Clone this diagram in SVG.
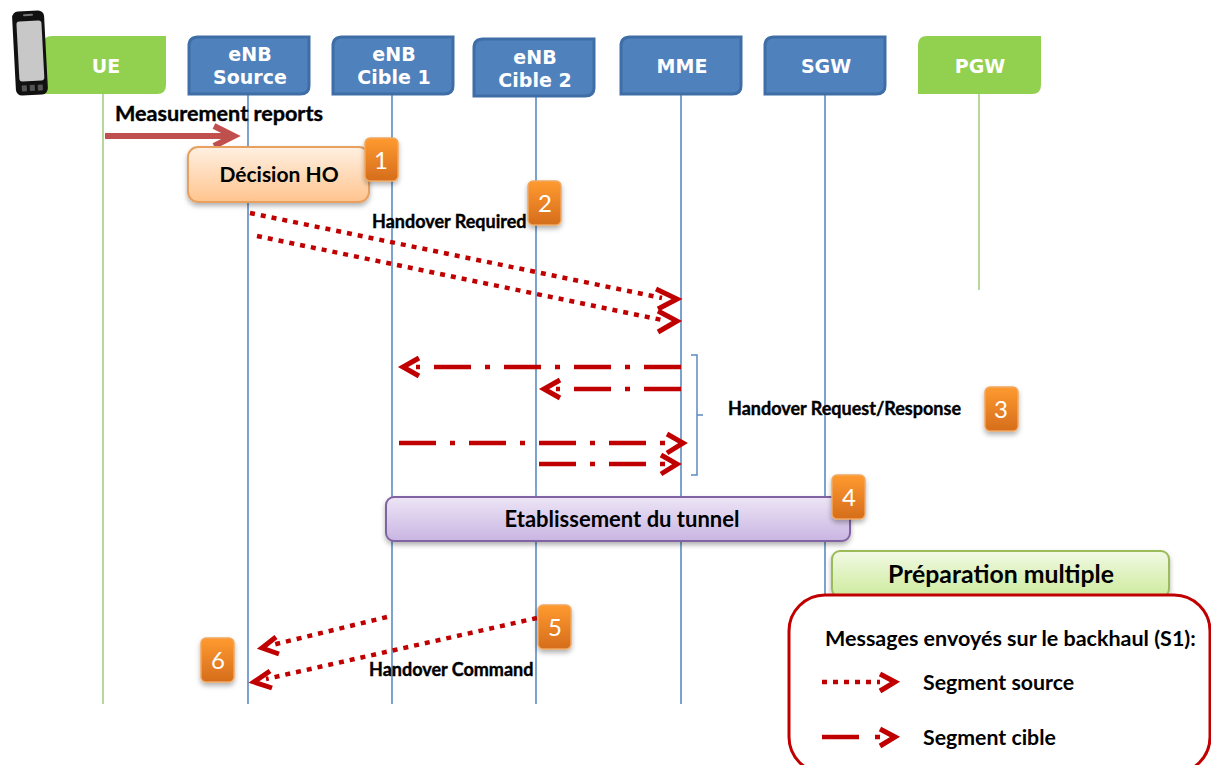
<svg xmlns="http://www.w3.org/2000/svg" width="1211" height="765" viewBox="0 0 1211 765">
<style>
.hb{fill:#4f81bd;stroke:#3f6ea6;stroke-width:3}
.hg{fill:#92d050}
.ht{font:bold 19px "DejaVu Sans",sans-serif;fill:#fff;text-anchor:middle}
.ll{fill:none;stroke-width:1.6}
.b{stroke:#5b8bc4}
.g{stroke:#a6cf7c}
.lb{font:bold 21.3px Lato,"Open Sans",sans-serif;fill:#000}
.sm{font:bold 18px Lato,"Open Sans",sans-serif;fill:#000;stroke:#000;stroke-width:.4}
.badge{fill:url(#or);stroke:#f0a860;stroke-width:1.5;filter:url(#sh)}
.num{font:24px Lato,"Open Sans",sans-serif;fill:#fff;text-anchor:middle}
.dot{fill:none;stroke:#c00000;stroke-width:4.5;stroke-dasharray:5 6}
.dd{fill:none;stroke:#c00000;stroke-width:4.5;stroke-dasharray:37 14 5 14}
.dd2{fill:none;stroke:#c00000;stroke-width:4.5}
.head{fill:none;stroke:#c00000;stroke-width:5}
</style>
<defs>
<linearGradient id="or" x1="0" y1="0" x2="0" y2="1"><stop offset="0" stop-color="#ff9a30"/><stop offset="1" stop-color="#d56d1c"/></linearGradient>
<linearGradient id="pe" x1="0" y1="0" x2="0" y2="1"><stop offset="0" stop-color="#fff0e2"/><stop offset="1" stop-color="#ffc48e"/></linearGradient>
<linearGradient id="pu" x1="0" y1="0" x2="0" y2="1"><stop offset="0" stop-color="#ede5f6"/><stop offset="1" stop-color="#c9b5e2"/></linearGradient>
<linearGradient id="gr" x1="0" y1="0" x2="0" y2="1"><stop offset="0" stop-color="#f2f9e4"/><stop offset="1" stop-color="#cdeb9d"/></linearGradient>
<filter id="sh" x="-20%" y="-20%" width="140%" height="150%"><feDropShadow dx="0" dy="3" stdDeviation="2.5" flood-color="#000" flood-opacity=".3"/></filter>
<path id="hdr" d="M9 0H120V49Q120 57 111 57H0V9Q0 0 9 0Z"/>
<path id="hdg" d="M9 0H123V49Q123 58 114 58H0V9Q0 0 9 0Z"/>
</defs>

<g id="lifelines">
<path class="ll g" d="M103 94V704"/>
<path class="ll b" d="M248 94V704"/>
<path class="ll b" d="M392 94V704"/>
<path class="ll b" d="M536 94V704"/>
<path class="ll b" d="M681 94V704"/>
<path class="ll b" d="M825 94V600"/>
<path class="ll g" d="M979 94V290"/>
</g>

<g id="node-ue">
<use href="#hdg" x="43" y="36" class="hg"/>
<text class="ht" x="106" y="73">UE</text>
<g id="phone" transform="rotate(-3 30 53)">
<rect x="14" y="11" width="32" height="84" rx="6" fill="#111"/>
<rect x="18" y="21" width="25" height="60" rx="3" fill="#c8c8c8"/>
<rect x="25" y="14" width="10" height="2" rx="1" fill="#777"/>
<rect x="20" y="85" width="5" height="6" fill="#555"/>
<rect x="28" y="85" width="5" height="6" fill="#555"/>
<rect x="36" y="85" width="5" height="6" fill="#555"/>
</g>
</g>
<g id="node-enb-source"><use href="#hdr" x="189" y="37" class="hb"/><text class="ht" x="250" y="61">eNB</text><text class="ht" x="250" y="84">Source</text></g>
<g id="node-enb-cible1"><use href="#hdr" x="333" y="37" class="hb"/><text class="ht" x="394" y="61">eNB</text><text class="ht" x="394" y="84">Cible 1</text></g>
<g id="node-enb-cible2"><use href="#hdr" x="474" y="39" class="hb"/><text class="ht" x="535" y="64">eNB</text><text class="ht" x="535" y="87">Cible 2</text></g>
<g id="node-mme"><use href="#hdr" x="621" y="37" class="hb"/><text class="ht" x="682" y="73">MME</text></g>
<g id="node-sgw"><use href="#hdr" x="765" y="37" class="hb"/><text class="ht" x="826" y="73">SGW</text></g>
<g id="node-pgw"><use href="#hdg" x="918" y="36" class="hg"/><text class="ht" x="980" y="73">PGW</text></g>

<g id="connectors">
<path d="M105 136H232" fill="none" stroke="#c0504d" stroke-width="6"/>
<path d="M214 126L234 136L214 146" fill="none" stroke="#c0504d" stroke-width="6"/>

<path class="dot" d="M250 213L662 298"/><path class="head" d="M656 289L677 299L658 309"/>
<path class="dot" d="M257 236L662 320"/><path class="head" d="M658 311L677 321L658 332"/>

<path class="dd" d="M681 367H416"/><path class="head" d="M419 358L403 367L419 376"/>
<path class="dd" d="M681 389H556"/><path class="head" d="M560 380L544 389L560 398"/>
<path class="dd" d="M399 443H665"/><path class="head" d="M667 434L683 443L667 453"/>
<path class="dd" d="M539 464H665"/><path class="head" d="M661 455L677 464L661 474"/>

<path class="dot" d="M387 617L272 645"/><path class="head" d="M276 637L262 648L279 654"/>
<path class="dot" d="M537 618L266 679"/><path class="head" d="M270 671L254 682L272 688"/>

<path d="M691 355H697V475H691M697 415H703" fill="none" stroke="#5b8bc4" stroke-width="1.5"/>
</g>

<g id="node-decision">
<rect x="188" y="147" width="181" height="55" rx="10" fill="url(#pe)" stroke="#e8a060" stroke-width="2" filter="url(#sh)"/>
<text class="lb" x="279" y="182" text-anchor="middle" style="font-size:21px">Décision HO</text>
</g>
<g id="node-tunnel">
<rect x="386" y="497" width="464" height="44" rx="8" fill="url(#pu)" stroke="#8064a2" stroke-width="2" filter="url(#sh)"/>
<text class="lb" x="622" y="527" text-anchor="middle" style="font-size:22px">Etablissement du tunnel</text>
</g>
<g id="node-preparation">
<rect x="832" y="551" width="337" height="46" rx="8" fill="url(#gr)" stroke="#9bbb59" stroke-width="2" filter="url(#sh)"/>
<text class="lb" x="1001" y="583" text-anchor="middle" style="font-size:24.8px">Préparation multiple</text>
</g>

<g id="node-legend">
<rect x="789" y="595" width="421" height="178" rx="36" fill="#fff" stroke="#c00000" stroke-width="3"/>
<text class="lb" x="825" y="646" style="font-size:21.5px">Messages envoyés sur le backhaul (S1):</text>
<path class="dot" d="M822 682H880"/><path class="head" d="M880 674L895 682L880 691"/>
<text class="lb" x="923" y="690">Segment source</text>
<path class="dd2" d="M822 737H859M875 737H880"/><path class="head" d="M880 729L895 737L880 746"/>
<text class="lb" x="923" y="745">Segment cible</text>
</g>

<g id="labels">
<text class="lb" x="115" y="121" style="font-size:21.6px;stroke:#000;stroke-width:.4">Measurement reports</text>
<text class="sm" x="372" y="228">Handover Required</text>
<text class="sm" x="728" y="415">Handover Request/Response</text>
<text class="sm" x="369" y="676">Handover Command</text>
</g>

<g id="badge-1"><rect class="badge" x="365" y="138" width="33" height="43" rx="5"/><text class="num" x="381" y="169">1</text></g>
<g id="badge-2"><rect class="badge" x="528" y="181" width="33" height="44" rx="5"/><text class="num" x="545" y="212">2</text></g>
<g id="badge-3"><rect class="badge" x="985" y="387" width="33" height="44" rx="5"/><text class="num" x="1001" y="418">3</text></g>
<g id="badge-4"><rect class="badge" x="832" y="475" width="33" height="44" rx="5"/><text class="num" x="849" y="506">4</text></g>
<g id="badge-5"><rect class="badge" x="538" y="605" width="33" height="44" rx="5"/><text class="num" x="555" y="636">5</text></g>
<g id="badge-6"><rect class="badge" x="201" y="638" width="33" height="44" rx="5"/><text class="num" x="218" y="669">6</text></g>
</svg>
